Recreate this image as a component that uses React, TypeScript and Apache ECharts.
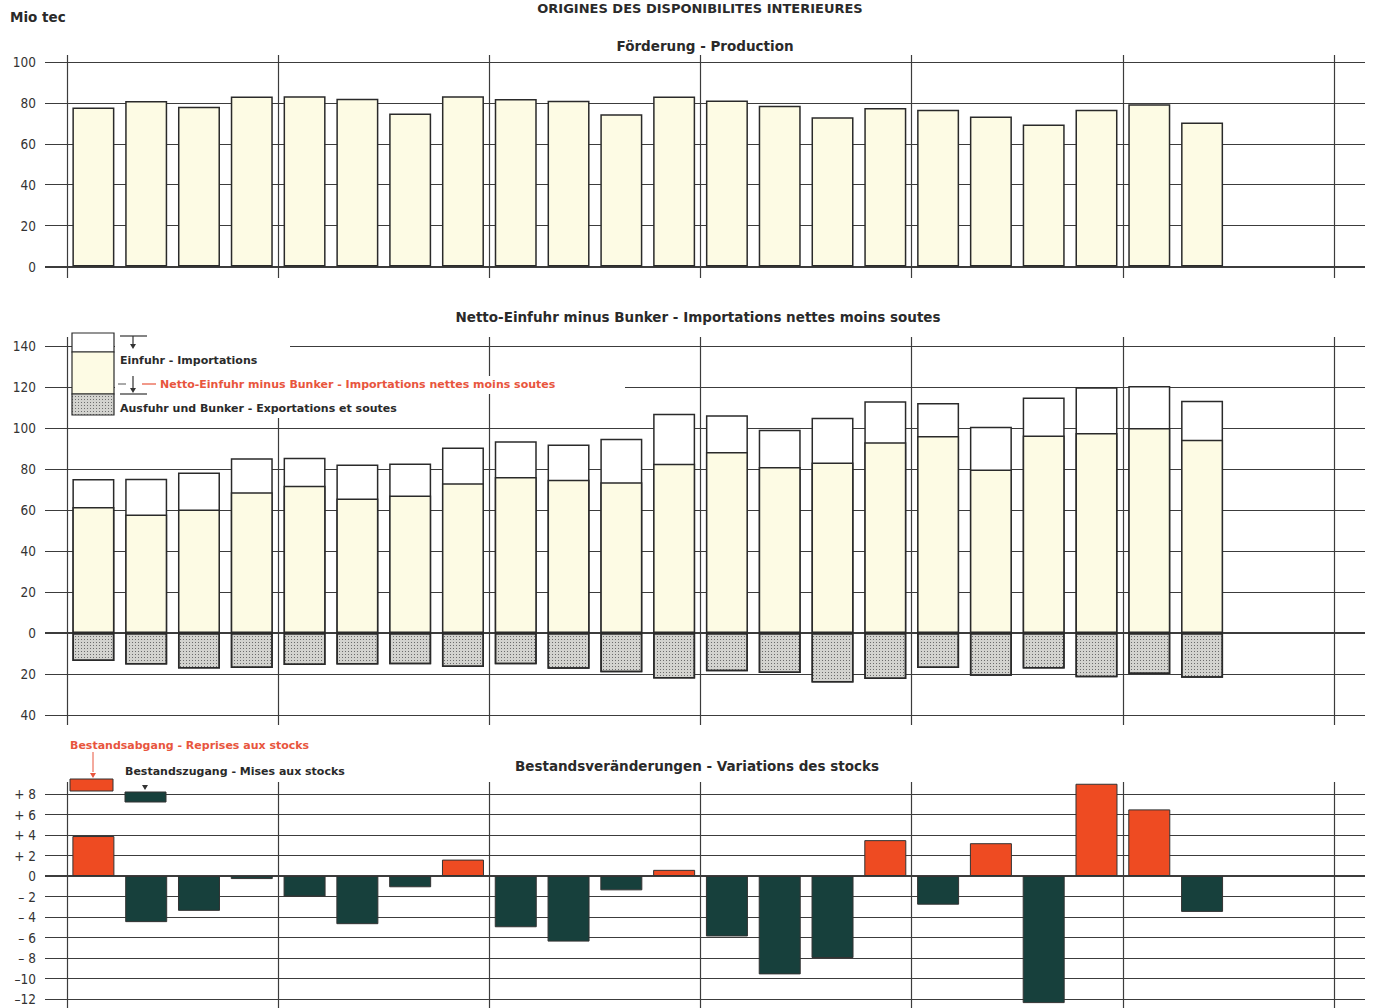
import React, { useEffect, useRef } from "react";
import * as echarts from "echarts";

// ---- data (Mio tec), 22 yearly columns out of 24 slots ----
const production = [77.8, 80.9, 78.1, 83.1, 83.3, 82.0, 74.8, 83.2, 81.9, 81.1, 74.4, 83.1, 81.2, 78.6, 73.0, 77.5, 76.7, 73.4, 69.4, 76.7, 79.3, 70.4];
const imports = [75.1, 75.2, 78.3, 85.3, 85.5, 82.2, 82.7, 90.5, 93.5, 92.0, 94.7, 107.0, 106.2, 99.2, 105.0, 113.0, 112.2, 100.6, 114.9, 119.9, 120.5, 113.3];
const netImports = [61.5, 57.8, 60.3, 68.7, 71.8, 65.6, 67.1, 73.1, 76.1, 74.8, 73.5, 82.6, 88.3, 81.0, 83.2, 93.1, 96.1, 79.7, 96.3, 97.5, 100.0, 94.3];
const exportsBunkers = [13.6, 15.4, 17.3, 17.1, 15.6, 15.4, 15.3, 16.6, 15.2, 17.4, 19.2, 22.2, 18.7, 19.5, 24.1, 22.5, 17.1, 20.8, 17.3, 21.6, 20.0, 21.8];
const stockChange = [3.9, -4.5, -3.4, -0.3, -2.0, -4.7, -1.1, 1.6, -5.0, -6.4, -1.4, 0.6, -5.9, -9.6, -8.0, 3.5, -2.8, 3.2, -12.4, 9.0, 6.5, -3.5];

const prodTicks = [0, 20, 40, 60, 80, 100];
const tradeTicks = [140, 120, 100, 80, 60, 40, 20, 0, -20, -40];
const stockTicks = [8, 6, 4, 2, 0, -2, -4, -6, -8, -10, -12];
const slotLines = [0, 4, 8, 12, 16, 20, 24];

const mainTitle = "ORIGINES DES DISPONIBILITES INTERIEURES";
const unitLabel = "Mio tec";
const title1 = "Förderung - Production";
const title2 = "Netto-Einfuhr minus Bunker - Importations nettes moins soutes";
const title3 = "Bestandsveränderungen - Variations des stocks";
const legImp = "Einfuhr - Importations";
const legNet = "Netto-Einfuhr minus Bunker - Importations nettes moins soutes";
const legExp = "Ausfuhr und Bunker - Exportations et soutes";
const legOut = "Bestandsabgang - Reprises aux stocks";
const legIn = "Bestandszugang - Mises aux stocks";

const CREAM = "#fdfbe4";
const ORANGE = "#ee4b22";
const TEAL = "#17403c";
const HATCH = "#d3d3cf";
const EDGE = "#2a2a2a";
const GRIDC = "#3c3c3c";
const REDTXT = "#e8553d";
const NUMFONT = "'DejaVu Sans Condensed', 'DejaVu Sans', sans-serif";
const TXTFONT = "'DejaVu Sans', sans-serif";

const X_MIN = -0.4167;
const X_MAX = 24.586;

function hLines(ticks: number[], fmt: (t: number) => string) {
  return ticks.map((t) => ({
    yAxis: t,
    lineStyle: { color: GRIDC, width: t === 0 ? 2 : 1.1, type: "solid" },
    label: {
      show: true,
      position: "start",
      formatter: fmt(t),
      color: "#333",
      fontSize: 13.5,
      fontFamily: NUMFONT,
      distance: 9,
    },
  }));
}
function vLines() {
  return slotLines.map((v) => ({
    xAxis: v,
    lineStyle: { color: GRIDC, width: 1.2, type: "solid" },
    label: { show: false },
  }));
}
function markLineFor(ticks: number[], fmt: (t: number) => string) {
  return {
    z: 1,
    silent: true,
    symbol: ["none", "none"],
    animation: false,
    data: [...hLines(ticks, fmt), ...vLines()],
  };
}

function hatchCanvas() {
  const c = document.createElement("canvas");
  c.width = 3;
  c.height = 3;
  const ctx = c.getContext("2d")!;
  ctx.fillStyle = HATCH;
  ctx.fillRect(0, 0, 3, 3);
  ctx.fillStyle = "#6e6e6e";
  ctx.fillRect(0, 0, 1, 1);
  return c;
}

export default function App() {
  const ref = useRef<HTMLDivElement>(null);
  useEffect(() => {
    if (!ref.current) return;
    const chart = echarts.init(ref.current, null, { renderer: "svg" });
    const xs = (i: number) => i + 0.5;
    const barBase = { type: "bar", barWidth: 42, barGap: "-100%" };
    const decal = {
      symbol: "rect",
      symbolSize: 1,
      color: "rgba(90,90,90,0.85)",
      dashArrayX: [1, 2],
      dashArrayY: [1, 2],
      rotation: 0,
    };
    const lineEl = (x1: number, y1: number, x2: number, y2: number, color = "#333", w = 1.2) => ({
      type: "line",
      z: 100,
      shape: { x1, y1, x2, y2 },
      style: { stroke: color, lineWidth: w },
    });
    const arrowDown = (x: number, y: number, color = "#333") => ({
      type: "polygon",
      z: 100,
      shape: { points: [[x - 3, y - 5], [x + 3, y - 5], [x, y]] },
      style: { fill: color },
    });
    const textEl = (x: number, y: number, text: string, opts: any = {}) => ({
      type: "text",
      z: 100,
      x,
      y,
      style: {
        text,
        fill: opts.fill || "#2a2a2a",
        fontSize: opts.fontSize || 11,
        fontWeight: opts.fontWeight || "bold",
        fontFamily: TXTFONT,
        align: opts.align || "left",
        verticalAlign: "middle",
      },
    });
    const white = (x: number, y: number, width: number, height: number) => ({
      type: "rect",
      z: 90,
      shape: { x, y, width, height },
      style: { fill: "#ffffff" },
    });

    chart.setOption({
      animation: false,
      backgroundColor: "#ffffff",
      grid: [
        { left: 45, right: 12, top: 55, height: 223 },
        { left: 45, right: 12, top: 337, height: 388 },
        { left: 45, right: 12, top: 782, height: 226 },
      ],
      xAxis: [0, 1, 2].map((g) => ({ type: "value", gridIndex: g, min: X_MIN, max: X_MAX, show: false, splitLine: { show: false } })),
      yAxis: [
        { type: "value", gridIndex: 0, min: -5.623, max: 103.423, show: false, splitLine: { show: false } },
        { type: "value", gridIndex: 1, min: -44.88, max: 144.39, show: false, splitLine: { show: false } },
        { type: "value", gridIndex: 2, min: -12.878, max: 9.171, show: false, splitLine: { show: false } },
      ],
      series: [
        {
          ...barBase,
          name: "production",
          z: 2,
          xAxisIndex: 0,
          yAxisIndex: 0,
          data: production.map((v, i) => [xs(i), v]),
          itemStyle: { color: CREAM, borderColor: EDGE, borderWidth: 1.5 },
          markLine: markLineFor(prodTicks, (t) => String(t)),
        },
        {
          ...barBase,
          name: "imports",
          z: 2,
          xAxisIndex: 1,
          yAxisIndex: 1,
          data: imports.map((v, i) => [xs(i), v]),
          itemStyle: { color: "#ffffff", borderColor: EDGE, borderWidth: 1.5 },
          markLine: markLineFor(tradeTicks, (t) => String(Math.abs(t))),
        },
        {
          ...barBase,
          name: "net",
          z: 3,
          xAxisIndex: 1,
          yAxisIndex: 1,
          data: netImports.map((v, i) => [xs(i), v]),
          itemStyle: { color: CREAM, borderColor: EDGE, borderWidth: 1.5 },
        },
        {
          ...barBase,
          name: "exports",
          z: 3,
          xAxisIndex: 1,
          yAxisIndex: 1,
          data: exportsBunkers.map((v, i) => [xs(i), -v]),
          itemStyle: { color: HATCH, borderColor: EDGE, borderWidth: 1.5, decal },
        },
        {
          ...barBase,
          name: "stocks",
          z: 2,
          xAxisIndex: 2,
          yAxisIndex: 2,
          data: stockChange.map((v, i) => [xs(i), v]),
          itemStyle: {
            color: (p: any) => (p.value[1] >= 0 ? ORANGE : TEAL),
            borderColor: "#333",
            borderWidth: 1,
          },
          markLine: markLineFor(stockTicks, (t) =>
            t > 0 ? `+ ${t}` : t < 0 ? (t <= -10 ? `–${-t}` : `– ${-t}`) : "0"
          ),
        },
      ],
      graphic: [
        textEl(700, 8, mainTitle, { fontSize: 13, align: "center" }),
        textEl(10, 17, unitLabel, { fontSize: 13.5 }),
        textEl(705, 46, title1, { fontSize: 13.5, align: "center" }),
        textEl(698, 317, title2, { fontSize: 13.5, align: "center" }),
        textEl(697, 766, title3, { fontSize: 13.5, align: "center" }),
        // legend panel 2
        white(115, 330, 175, 25),
        white(115, 355, 330, 63),
        white(445, 376, 180, 18),
        { type: "rect", z: 95, shape: { x: 72, y: 333, width: 42, height: 19 }, style: { fill: "#ffffff", stroke: EDGE, lineWidth: 1.2 } },
        { type: "rect", z: 95, shape: { x: 72, y: 352, width: 42, height: 42 }, style: { fill: CREAM, stroke: EDGE, lineWidth: 1.2 } },
        {
          type: "rect",
          z: 95,
          shape: { x: 72, y: 394, width: 42, height: 21 },
          style: { fill: { image: hatchCanvas(), repeat: "repeat", imageWidth: 3, imageHeight: 3 }, stroke: EDGE, lineWidth: 1.2 },
        },
        lineEl(120, 336, 147, 336),
        lineEl(133, 336, 133, 344),
        arrowDown(133, 349),
        lineEl(120, 394, 147, 394),
        lineEl(133, 376, 133, 388),
        arrowDown(133, 393),
        lineEl(118, 384, 126, 384, "#555", 1),
        lineEl(142, 384, 156, 384, REDTXT, 1.2),
        textEl(120, 360, legImp),
        textEl(160, 384, legNet, { fill: REDTXT }),
        textEl(120, 408, legExp),
        // legend panel 3
        textEl(70, 745, legOut, { fill: REDTXT }),
        lineEl(93, 752, 93, 772, REDTXT, 1),
        arrowDown(93, 778, REDTXT),
        { type: "rect", z: 95, shape: { x: 70, y: 779, width: 43, height: 12 }, style: { fill: ORANGE, stroke: "#333", lineWidth: 1 } },
        textEl(125, 771, legIn),
        arrowDown(145, 790),
        { type: "rect", z: 95, shape: { x: 125, y: 792, width: 41, height: 10 }, style: { fill: TEAL, stroke: "#333", lineWidth: 1 } },
      ],
    });
    return () => chart.dispose();
  }, []);
  return (
    <div
      ref={ref}
      style={{ position: "absolute", left: 0, top: 0, width: 1377, height: 1008, background: "#fff" }}
    />
  );
}
